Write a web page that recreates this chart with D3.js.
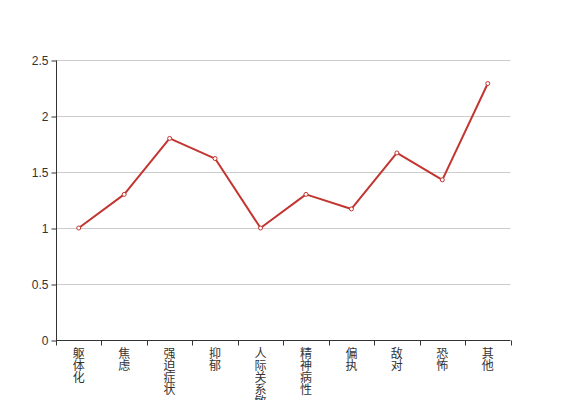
<!DOCTYPE html>
<html><head><meta charset="utf-8">
<script src="https://cdn.jsdelivr.net/npm/d3@7"></script>
<style>body{margin:0;background:#fff}svg{display:block}text{font-family:"Liberation Sans","Noto Sans CJK SC",sans-serif}</style>
</head><body><svg id="c" width="567" height="400"></svg>
<script>
const categories = ["躯体化","焦虑","强迫症状","抑郁","人际关系敏感","精神病性","偏执","敌对","恐怖","其他"];
const values = [1.0, 1.3, 1.8, 1.62, 1.0, 1.3, 1.17, 1.67, 1.43, 2.29];
const yTicks = [0, 0.5, 1, 1.5, 2, 2.5];

(function(){
const svg = d3.select("#c");
const mL = 56, mR = 510.5, mT = 60, mB = 340;
const x = d3.scaleBand().domain(categories).range([mL, mR]);
const y = d3.scaleLinear().domain([0, 2.5]).range([mB, mT]);

// grid
svg.append("g").selectAll("line").data(yTicks.filter(d => d > 0)).join("line")
  .attr("x1", mL).attr("x2", mR)
  .attr("y1", d => Math.round(y(d)) + 0.5).attr("y2", d => Math.round(y(d)) + 0.5)
  .attr("stroke", "#ccc").attr("stroke-width", 1);

// y axis
const ya = svg.append("g").attr("transform", `translate(${mL + 0.5},0.5)`)
  .call(d3.axisLeft(y).tickValues(yTicks).tickSize(5).tickPadding(3).tickFormat(d => d3.format("")(d)));
ya.select(".domain").attr("stroke", "#333").attr("d", `M0,${mB}V${mT}`);
ya.selectAll(".tick line").attr("stroke", "#333");
ya.selectAll(".tick text").attr("fill", "#333").attr("font-size", 12).attr("font-family", "Liberation Sans, sans-serif");

// x axis
const xa = svg.append("g").attr("transform", `translate(0,${mB + 0.5})`);
xa.append("line").attr("x1", mL).attr("x2", mR).attr("stroke", "#333");
const bounds = d3.range(categories.length + 1).map(i => mL + i * x.bandwidth());
xa.selectAll("line.t").data(bounds).join("line").attr("class", "t")
  .attr("x1", d => Math.round(d) + 0.5).attr("x2", d => Math.round(d) + 0.5)
  .attr("y1", 0).attr("y2", 5).attr("stroke", "#333");
const labels = xa.selectAll("text").data(categories).join("text")
  .attr("x", d => x(d) + x.bandwidth() / 2)
  .attr("y", 17)
  .attr("text-anchor", "middle")
  .attr("font-size", 12).attr("fill", "#333")
  .attr("font-family", "Noto Sans CJK SC, sans-serif");
labels.each(function(d) {
  const t = d3.select(this);
  d.split("").forEach((ch, i) => {
    t.append("tspan").attr("x", x(d) + x.bandwidth() / 2).attr("dy", i === 0 ? 0 : 12).text(ch);
  });
});

// line
const line = d3.line().x((d, i) => x(categories[i]) + x.bandwidth() / 2).y(d => y(d));
svg.append("path").datum(values).attr("d", line)
  .attr("fill", "none").attr("stroke", "#c23531").attr("stroke-width", 2).attr("stroke-linejoin", "bevel");
svg.append("g").selectAll("circle").data(values).join("circle")
  .attr("cx", (d, i) => x(categories[i]) + x.bandwidth() / 2).attr("cy", d => y(d))
  .attr("r", 2).attr("fill", "#fff").attr("stroke", "#c23531").attr("stroke-width", 1);
})();
</script></body></html>
